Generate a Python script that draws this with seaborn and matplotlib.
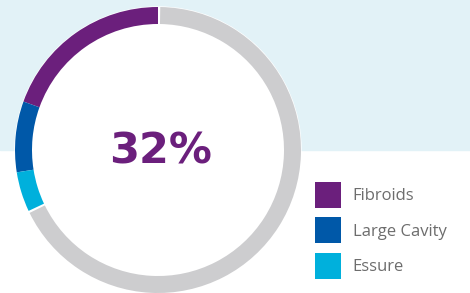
import matplotlib
matplotlib.use("Agg")
import matplotlib.pyplot as plt
import seaborn as sns
from matplotlib.patches import Patch, Circle

# data
categories = ["Fibroids", "Large Cavity", "Essure"]
shares = [19.5, 8.0, 4.5]
colors = ["#6b1f7c", "#0058a8", "#00b0dc"]
rest_color = "#cdcdcf"

sns.set_theme(style="white")
plt.rcParams["font.family"] = ["Open Sans", "DejaVu Sans"]

W, H = 470, 293
fig = plt.figure(figsize=(W / 100, H / 100), dpi=100)
ax = fig.add_axes([0, 0, 1, 1])

cx, cy = 158, H - 150
R, width = 143, 17

# light blue band on the top half
ax.axhspan(cy, H, color="#e2f2f7", zorder=0)
ax.add_patch(Circle((cx, cy), R, color="white", zorder=1))

values = shares + [100 - sum(shares)]
wedges, _ = ax.pie(values, colors=colors + [rest_color], startangle=90,
                   counterclock=True, center=(cx, cy), radius=R,
                   wedgeprops=dict(width=width, linewidth=0))
for w in wedges:
    w.set_zorder(2)
# small white gaps around the grey remainder
gap = 0.9
wedges[-1].set_theta1(wedges[-1].theta1 + gap)
wedges[-1].set_theta2(wedges[-1].theta2 - gap)

ax.text(cx + 2, cy - 2, f"{sum(shares):.0f}%", ha="center", va="center",
        fontsize=31, fontweight="bold", color="#6b1f7c", zorder=3,
        family="DejaVu Sans")

handles = [Patch(facecolor=c, edgecolor="none") for c in colors]
leg = ax.legend(handles, categories, loc="upper left",
                bbox_to_anchor=(315 / W, 1 - 182 / H), bbox_transform=fig.transFigure,
                frameon=False, fontsize=12, handlelength=1.56, handleheight=2.02,
                labelspacing=0.57, handletextpad=0.7, borderpad=0, borderaxespad=0)
for t in leg.get_texts():
    t.set_color("#6d6d6d")

ax.set_xlim(0, W)
ax.set_ylim(0, H)
ax.set_aspect("equal")
ax.axis("off")

fig.savefig("out.png", dpi=100)
